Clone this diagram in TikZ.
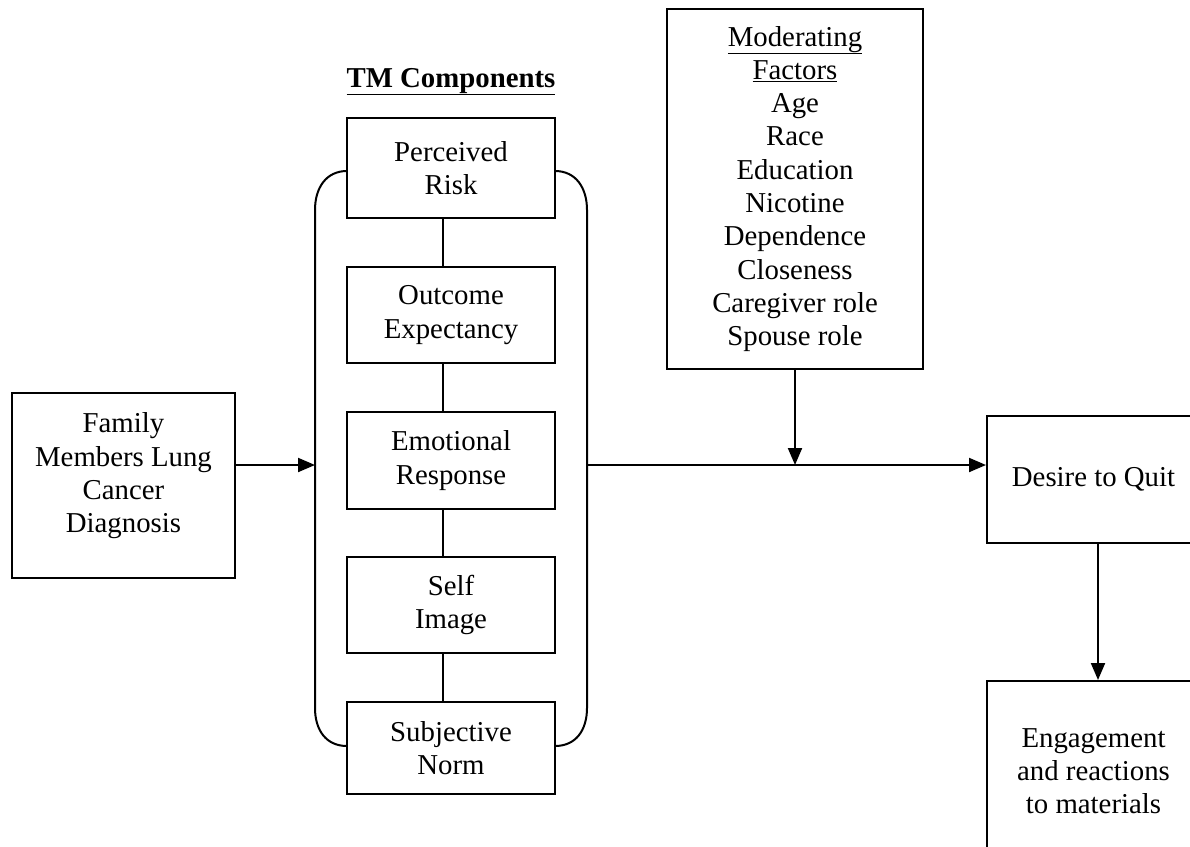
\documentclass[tikz,border=0pt]{standalone}
\usepackage{fontspec}
\setmainfont{Liberation Serif}
\usetikzlibrary{arrows.meta}
\begin{document}
\begin{tikzpicture}[x=1pt,y=-1pt,
  box/.style={draw, line width=2pt, inner sep=0pt, align=center, font=\fontsize{28.8}{33.3}\selectfont},
  txt/.style={inner sep=0pt, align=center, font=\fontsize{28.8}{33.3}\selectfont},
  conn/.style={line width=2pt},
  arr/.style={line width=2pt, -{Triangle[length=17pt,width=14pt]}}]
\useasboundingbox (0,0) rectangle (1190,846);
\clip (0,0) rectangle (1190,846);

% title
\node[txt, anchor=base, font=\bfseries\fontsize{28.8}{33.3}\selectfont] (tm) at (451,87) {\underline{TM Components}};

% TM component boxes
\node[box, minimum width=208pt, minimum height=100pt] (pr) at (451,168) {Perceived\\Risk};
\node[box, minimum width=208pt, minimum height=96pt] (oe) at (451,315) {Outcome\\Expectancy};
\node[box, minimum width=208pt, minimum height=97pt] (er) at (451,460.5) {Emotional\\Response};
\node[box, minimum width=208pt, minimum height=96pt] (si) at (451,605) {Self\\Image};
\node[box, minimum width=208pt, minimum height=92pt] (sn) at (451,748) {Subjective\\Norm};

\draw[conn] ([xshift=-8pt]pr.south) -- ([xshift=-8pt]oe.north);
\draw[conn] ([xshift=-8pt]oe.south) -- ([xshift=-8pt]er.north);
\draw[conn] ([xshift=-8pt]er.south) -- ([xshift=-8pt]si.north);
\draw[conn] ([xshift=-8pt]si.south) -- ([xshift=-8pt]sn.north);

% brackets
\coordinate (lb) at (315,465);
\coordinate (rb) at (587,465);
\draw[conn] (347,171) .. controls (326,171) and (315,188) .. (315,210) -- (315,708) .. controls (315,730) and (326,746) .. (347,746);
\draw[conn] (555,171) .. controls (576,171) and (587,188) .. (587,210) -- (587,708) .. controls (587,730) and (576,746) .. (555,746);

% family box
\node[box, minimum width=223pt, minimum height=185pt] (fm) at (123.5,485.5) {};
\node[txt] (fmt) at (123.5,476) {Family\\Members Lung\\Cancer\\Diagnosis};

% moderating factors
\node[box, minimum width=256pt, minimum height=360pt] (mf) at (795,189)
  {\underline{Moderating}\\\underline{Factors}\\Age\\Race\\Education\\Nicotine\\Dependence\\Closeness\\Caregiver role\\Spouse role};

% outcomes
\node[box, minimum width=213pt, minimum height=127pt] (dq) at (1093.5,479.5) {Desire to Quit};
\node[box, minimum width=213pt, minimum height=180pt] (eg) at (1093.5,771) {Engagement\\and reactions\\to materials};

% connectors
\draw[arr] (fm.east |- lb) -- (lb);
\draw[arr] (rb) -- (dq.west |- rb);
\draw[arr] (mf.south) -- (mf.south |- rb);
\draw[arr] ([xshift=4.5pt]dq.south) -- ([xshift=4.5pt]eg.north);
\end{tikzpicture}
\end{document}
